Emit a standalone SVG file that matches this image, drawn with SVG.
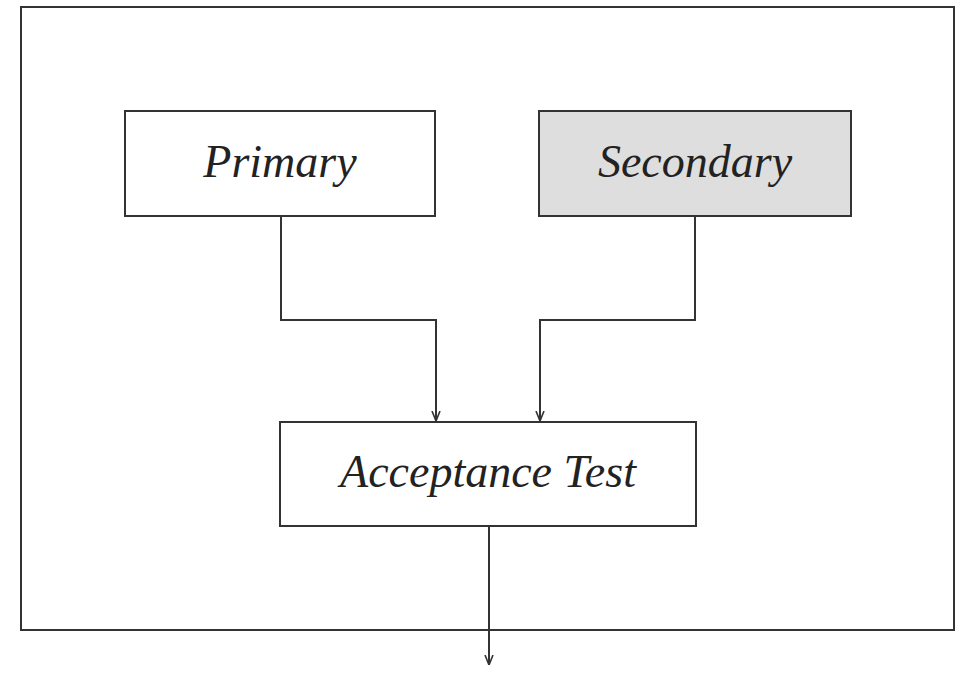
<svg xmlns="http://www.w3.org/2000/svg" width="959" height="673" viewBox="0 0 959 673">
<style>
.box{fill:#fff;stroke:#333;stroke-width:2}
.shade{fill:#dedede}
.lbl{font-family:"Liberation Serif",serif;font-style:italic;font-size:46px;fill:#222;text-anchor:middle}
.edge{fill:none;stroke:#333;stroke-width:2}
</style>
<defs>
<marker id="arr" viewBox="0 0 10 10" refX="10" refY="5" markerWidth="10" markerHeight="14" markerUnits="userSpaceOnUse" orient="auto">
<path d="M0,1 L10,5 L0,9" fill="none" stroke="#333" stroke-width="1.6"/>
</marker>
</defs>
<rect width="959" height="673" fill="#fff"/>
<g id="frame"><rect x="21" y="7" width="933" height="623" fill="none" stroke="#333" stroke-width="2"/></g>
<g id="primary"><rect class="box" x="125" y="111" width="310" height="105"/><text class="lbl" x="280" y="177">Primary</text></g>
<g id="secondary"><rect class="box shade" x="539" y="111" width="312" height="105"/><text class="lbl" x="695" y="177">Secondary</text></g>
<g id="acceptance"><rect class="box" x="280" y="422" width="416" height="104"/><text class="lbl" x="488" y="487">Acceptance Test</text></g>
<g id="connectors">
<path class="edge" d="M281,216 V320 H436 V421" marker-end="url(#arr)"/>
<path class="edge" d="M695,216 V320 H540 V421" marker-end="url(#arr)"/>
<path class="edge" d="M489,526 V665" marker-end="url(#arr)"/>
</g>
</svg>
